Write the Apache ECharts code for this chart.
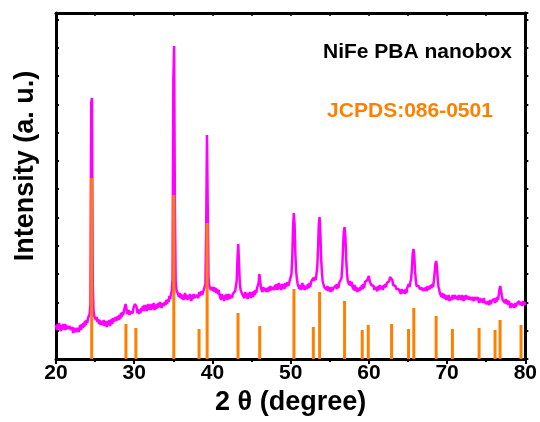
<!DOCTYPE html>
<html>
<head>
<meta charset="utf-8">
<script src="https://cdn.jsdelivr.net/npm/echarts@6/dist/echarts.min.js"></script>
<style>
  html, body { margin: 0; padding: 0; background: #fff; }
  #chart { width: 540px; height: 422px; }
</style>
</head>
<body>
<div id="chart"></div>
<script>
// XRD scan, sampled every 0.1 degree from 20 to 80 (one row per degree)
const scanStart = 20;
const scanStep = 0.1;
const intensity = [
  34,29,35,30,36,31,28,34,29,35,   // 20
  30,35,29,34,36,30,28,33,35,29,   // 21
  27,32,26,31,33,27,25,31,32,27,   // 22
  30,34,29,35,31,36,32,38,34,39,   // 23
  36,41,39,45,55,256,261,75,48,43, // 24
  45,39,42,37,40,35,39,34,38,40,   // 25
  34,39,33,38,36,32,38,34,39,33,   // 26
  36,40,35,41,37,38,42,38,37,43,   // 27
  39,44,40,46,42,47,44,49,51,55,   // 28
  51,45,46,49,44,47,45,49,46,51,   // 29
  52,55,57,52,46,50,45,49,46,51,   // 30
  48,53,48,54,49,54,48,52,55,49,   // 31
  54,49,55,50,53,56,49,54,50,55,   // 32
  51,56,52,57,54,51,56,58,53,57,   // 33
  54,59,55,60,57,63,60,65,68,80,   // 34
  280,313,150,78,69,68,65,62,66,61,// 35
  65,60,64,59,63,66,60,64,59,63,   // 36
  60,65,61,58,64,60,65,61,59,64,   // 37
  62,66,61,67,63,64,68,64,67,69,   // 38
  67,75,130,224,150,82,73,73,69,72,// 39
  73,68,72,67,71,66,70,65,69,64,   // 40
  64,59,65,60,63,58,64,60,65,59,   // 41
  61,65,60,64,66,61,65,67,64,68,   // 42
  70,78,100,115,95,76,69,69,65,65, // 43
  66,61,67,62,65,60,66,62,67,61,   // 44
  63,67,62,68,64,69,66,71,72,76,   // 45
  85,78,71,71,67,72,68,66,71,67,   // 46
  71,67,72,68,73,69,67,72,74,69,   // 47
  74,70,75,69,73,76,70,74,69,75,   // 48
  71,75,70,76,72,73,77,73,76,77,   // 49
  78,85,100,130,146,135,105,88,80,75, // 50
  75,70,74,69,73,76,70,74,69,73,   // 51
  74,70,75,71,76,72,77,79,76,81,   // 52
  78,82,79,85,92,110,135,142,125,100, // 53
  86,77,76,72,72,72,69,73,68,72,   // 54
  71,67,72,68,66,71,73,69,74,70,   // 55
  75,71,76,78,75,81,92,112,128,132,// 56
  122,100,86,78,78,74,78,73,77,72, // 57
  73,69,74,68,72,67,71,73,68,72,   // 58
  69,74,70,75,71,77,77,78,79,80,   // 59
  83,78,80,74,75,72,73,69,72,70,   // 60
  72,68,73,69,74,70,68,73,69,74,   // 61
  71,75,72,76,76,77,78,82,82,81,   // 62
  79,74,75,72,73,70,72,69,70,68,   // 63
  69,65,70,66,64,69,65,70,66,71,   // 64
  71,75,72,77,80,90,105,110,104,88,// 65
  79,73,74,71,73,70,72,69,71,68,   // 66
  67,71,68,72,68,73,69,73,70,74,   // 67
  71,75,72,78,85,95,98,92,80,72,   // 68
  69,65,65,62,66,61,65,60,64,59,   // 69
  63,59,64,58,62,61,59,64,60,58,   // 70
  64,60,63,65,59,64,60,63,59,64,   // 71
  62,58,63,59,64,60,58,63,59,62,   // 72
  63,59,62,64,58,62,63,59,57,62,   // 73
  60,56,61,57,55,60,56,61,57,58,   // 74
  59,55,58,60,54,59,55,58,60,56,   // 75
  60,56,61,57,62,59,64,70,73,68,   // 76
  63,59,59,61,56,60,55,59,54,58,   // 77
  55,51,56,52,50,55,51,56,52,55,   // 78
  57,53,58,54,52,57,53,58,54,57,   // 79
  54                               // 80
];

// JCPDS 086-0501 reference lines
const refAngles = [24.56, 28.94, 30.21, 35.06, 38.29, 39.32, 43.27, 46.04, 50.42, 52.9, 53.7, 56.89,
  59.15, 59.92, 62.9, 65.07, 65.74, 68.6, 70.68, 74.09, 76.13, 76.77, 79.45];
const refHeights = [181, 35, 31, 164, 30, 136, 46, 33, 70, 32, 67, 58,
  29, 34, 35, 30, 51, 43, 30, 31, 29, 39, 34];

const xTicks = [20, 30, 40, 50, 60, 70, 80];

const font = '"Liberation Sans", Arial, sans-serif';
const scan = intensity.map((v, i) => [+(scanStart + i * scanStep).toFixed(1), v]);
const sticks = refAngles.map((a, i) => [a, refHeights[i]]);

const chart = echarts.init(document.getElementById('chart'));
const axisLine = { show: true, onZero: false, lineStyle: { color: '#000', width: 3 } };

chart.setOption({
  animation: false,
  backgroundColor: '#fff',
  grid: { left: 56, right: 14, top: 13, bottom: 63 },
  xAxis: [{
    type: 'value',
    position: 'bottom',
    min: xTicks[0],
    max: xTicks[xTicks.length - 1],
    interval: 10,
    axisLine: axisLine,
    axisTick: { show: true, inside: false, length: 5, lineStyle: { color: '#000', width: 2 } },
    minorTick: { show: true, splitNumber: 2, length: 3, lineStyle: { color: '#000', width: 2 } },
    splitLine: { show: false },
    axisLabel: { color: '#000', fontFamily: font, fontWeight: 'bold', fontSize: 21, margin: 4 },
    name: '2 \u03b8 (degree)',
    nameLocation: 'middle',
    nameGap: 19,
    nameTextStyle: { color: '#000', fontFamily: font, fontWeight: 'bold', fontSize: 27 }
  }, {
    type: 'value',
    position: 'top',
    min: 20,
    max: 80,
    interval: 5,
    axisLine: axisLine,
    axisTick: { show: true, inside: true, length: 3, lineStyle: { color: '#000', width: 1.5 } },
    axisLabel: { show: false },
    splitLine: { show: false }
  }],
  yAxis: [{
    type: 'value',
    position: 'left',
    min: 0,
    max: 346,
    interval: 28.3,
    axisLine: axisLine,
    axisTick: { show: true, inside: true, length: 3, lineStyle: { color: '#000', width: 2 } },
    axisLabel: { show: false },
    splitLine: { show: false }
  }, {
    type: 'value',
    position: 'right',
    min: 0,
    max: 346,
    interval: 28.3,
    axisLine: axisLine,
    axisTick: { show: true, inside: false, length: 3, lineStyle: { color: '#000', width: 2 } },
    axisLabel: { show: false },
    splitLine: { show: false }
  }],
  series: [{
    type: 'line',
    data: scan,
    showSymbol: false,
    symbol: 'none',
    lineStyle: { color: '#FF00FF', width: 2.5 },
    z: 2
  }, {
    type: 'bar',
    data: sticks,
    barWidth: 3,
    itemStyle: { color: '#FF8000' },
    z: 3
  }],
  graphic: [{
    type: 'text',
    x: 26,
    y: 166,
    rotation: Math.PI / 2,
    style: {
      text: 'Intensity (a. u.)',
      font: 'bold 27px ' + font,
      fill: '#000',
      align: 'center',
      verticalAlign: 'middle'
    }
  }, {
    type: 'text',
    x: 512,
    y: 52,
    style: {
      text: 'NiFe PBA nanobox',
      font: 'bold 21px ' + font,
      fill: '#000',
      align: 'right',
      verticalAlign: 'middle'
    }
  }, {
    type: 'text',
    x: 410,
    y: 111,
    style: {
      text: 'JCPDS:086-0501',
      font: 'bold 21px ' + font,
      fill: '#FF8000',
      align: 'center',
      verticalAlign: 'middle'
    }
  }]
});
</script>
</body>
</html>
